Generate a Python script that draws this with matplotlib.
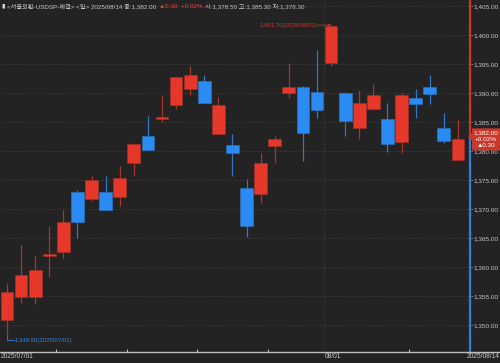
import matplotlib
matplotlib.use("Agg")
import matplotlib.pyplot as plt
import numpy as np
import pandas as pd
from matplotlib.lines import Line2D
from matplotlib.patches import Polygon

# USD/KRW daily candles, 2025/07/01 - 2025/08/14
dates = pd.bdate_range("2025-07-01", "2025-08-14")
opens = [1350.8, 1354.8, 1354.8, 1361.9, 1362.5, 1373.0, 1371.8, 1372.9, 1372.1, 1378.0,
         1382.5, 1385.5, 1388.0, 1390.6, 1392.1, 1382.9, 1381.0, 1373.7, 1372.5, 1380.9,
         1390.0, 1391.1, 1390.1, 1395.1, 1390.0, 1384.0, 1387.2, 1385.5, 1381.5, 1389.1,
         1391.1, 1384.0, 1378.5]
highs = [1357.2, 1363.8, 1361.9, 1367.1, 1369.8, 1373.3, 1375.7, 1375.6, 1377.4, 1381.3,
         1386.0, 1389.7, 1392.8, 1394.7, 1393.1, 1389.3, 1382.9, 1375.1, 1379.6, 1382.6,
         1395.1, 1391.2, 1397.4, 1401.7, 1390.1, 1390.5, 1391.5, 1388.2, 1390.0, 1390.6,
         1393.1, 1386.5, 1385.3]
lows = [1348.5, 1353.8, 1353.6, 1358.2, 1361.6, 1365.0, 1371.3, 1369.8, 1370.5, 1375.7,
        1380.1, 1385.0, 1387.2, 1389.7, 1388.2, 1382.9, 1375.7, 1365.1, 1371.0, 1377.9,
        1389.2, 1378.2, 1385.6, 1394.7, 1382.6, 1382.0, 1387.1, 1379.9, 1379.7, 1385.6,
        1388.1, 1381.3, 1378.3]
closes = [1355.7, 1358.6, 1359.4, 1362.1, 1367.8, 1367.8, 1375.0, 1369.8, 1375.3, 1381.2,
          1380.2, 1385.7, 1392.7, 1393.1, 1388.2, 1387.9, 1379.7, 1367.1, 1377.9, 1382.1,
          1391.1, 1383.1, 1387.0, 1401.6, 1385.2, 1388.3, 1389.6, 1381.2, 1389.7, 1388.1,
          1389.9, 1381.7, 1382.0]
price_ticks = list(range(1350, 1406, 5))
week_ticks = ["2025-07-07", "2025-07-14", "2025-07-21", "2025-07-28", "2025-08-11"]
month_label = "2025-08-01"

bg = "#232323"
red = "#e5382a"
blue = "#2a8cf2"
red_wick = "#a83428"
blue_wick = "#2f78c8"
txt = "#c8c8c8"
fonts = ["Liberation Sans", "Noto Sans CJK KR", "DejaVu Sans"]

fig = plt.figure(figsize=(5, 3.63), dpi=100, facecolor=bg)
ax = fig.add_axes([0, 11 / 363, 470 / 500, 352 / 363], facecolor=bg)

x = np.arange(len(dates))
o = np.array(opens)
c = np.array(closes)
up = c >= o
cols = np.where(up, red, blue)
wcols = np.where(up, red_wick, blue_wick)
height = np.maximum(np.abs(c - o), 0.3)
bottom = np.minimum(o, c)

# grid
for p in price_ticks:
    ax.axhline(p, color="#474747", lw=0.6, ls=(0, (1, 2)), zorder=0)
pos_month = dates.get_loc(pd.Timestamp(month_label)) - 0.5
ax.axvline(pos_month, color="#474747", lw=0.6, ls=(0, (1, 2)), zorder=0)

ax.vlines(x, lows, highs, colors=wcols, lw=0.9, zorder=1)
ax.bar(x, height, bottom=bottom, width=0.9, color=cols, edgecolor=wcols, lw=0.4, zorder=2)

ax.set_xlim(-0.497, 32.86)
ax.set_ylim(1345.34, 1406.03)
for s in ax.spines.values():
    s.set_visible(False)

ax.yaxis.tick_right()
ax.set_yticks(price_ticks)
ax.set_yticklabels([f"{p:,.2f}" for p in price_ticks], family=fonts)
ax.set_yticks(np.arange(1346, 1406, 1), minor=True)
ax.tick_params(axis="y", which="major", colors="#888888", labelcolor=txt, labelsize=4.6,
               length=2, width=0.5, pad=0.8)
ax.tick_params(axis="y", which="minor", colors="#666666", length=1, width=0.5)

wk = [dates.get_loc(pd.Timestamp(d)) - 0.5 for d in week_ticks]
ax.set_xticks(wk)
ax.set_xticklabels([])
ax.tick_params(axis="x", direction="in", length=2, width=0.8, colors="#bdbdbd")

# right axis line: red above last close, blue below
last = closes[-1]
yt = ax.get_yaxis_transform()
ax.plot([1, 1], [last, 1406.03], color="#c8382b", lw=1.6, transform=yt, clip_on=False, zorder=5)
ax.plot([1, 1], [1345.34, last], color="#2d7fe0", lw=1.6, transform=yt, clip_on=False, zorder=5)

# bottom axis line
fig.add_artist(Line2D([0, 1], [11 / 363, 11 / 363], color="#bdbdbd", lw=1.0,
                      transform=fig.transFigure))

# high / low annotations
imax = int(np.argmax(highs))
imin = int(np.argmin(lows))
ax.annotate("", xy=(imax, highs[imax]), xytext=(imax - 1.0, highs[imax]),
            arrowprops=dict(arrowstyle="->", color="#c8382b", lw=0.6,
                            shrinkA=0, shrinkB=0, mutation_scale=4))
ax.text(imax - 1.0, highs[imax], f"{highs[imax]:,.2f}({dates[imax]:%Y/%m/%d})",
        color="#c8382b", fontsize=4.3, family=fonts, ha="right", va="center")
ax.plot([imin - 0.02, imin - 0.02, imin + 0.5], [lows[imin] - 0.2, lows[imin] - 1.1, lows[imin] - 1.1],
        color="#3b82d6", lw=0.6, clip_on=False)
ax.text(imin + 0.57, lows[imin] - 1.1, f"{lows[imin]:,.2f}({dates[imin]:%Y/%m/%d})",
        color="#3b82d6", fontsize=4.3, family=fonts, ha="left", va="center")

# date labels
ly = 1 - 357 / 363
fig.text(1 / 500, ly, f"{dates[0]:%Y/%m/%d}", color=txt, fontsize=4.8, family=fonts, va="center")
fig.text((7 + 14.09 * pos_month) / 500 + 0.002, ly, f"{pd.Timestamp(month_label):%m/%d}",
         color=txt, fontsize=4.8, family=fonts, va="center")
fig.text(499.5 / 500, ly, f"{dates[-1]:%Y/%m/%d}", color=txt, fontsize=4.8, family=fonts,
         va="center", ha="right")

# current price box
prev = closes[-2]
chg = last - prev
pct = chg / prev * 100
ybox = ax.transData.transform((0, last))[1] / 363
box = Polygon([(468 / 500, ybox + 3 / 363), (472 / 500, ybox + 7 / 363), (472 / 500, ybox + 11 / 363),
               (500 / 500, ybox + 11 / 363), (500 / 500, ybox - 11 / 363), (472 / 500, ybox - 11 / 363),
               (472 / 500, ybox - 1 / 363)],
              closed=True, facecolor="#c8382b", edgecolor="none", transform=fig.transFigure, zorder=10)
fig.add_artist(box)
for k, s in enumerate([f"{last:,.2f}", f"+{pct:.2f}%", f"▲{chg:.2f}"]):
    fig.text(486 / 500, ybox + (6.5 - 6.5 * k) / 363, s, color="white", fontsize=4.6,
             family=fonts, ha="center", va="center", zorder=11)

# header
r = fig.canvas.get_renderer()
parts = [("▮", "#e0e0e0"),
         (f"<서울외환-USDSP-체결> <일> {dates[-1]:%Y/%m/%d} 종:{last:,.2f}", txt),
         (f"▲{chg:.2f}  +{pct:.2f}%", "#e0483a"),
         (f"시:{opens[-1]:,.2f} 고:{highs[-1]:,.2f} 저:{lows[-1]:,.2f}", txt)]
hx = 1
for s, col in parts:
    t = fig.text(hx / 500, 1 - 6 / 363, s, color=col, fontsize=4.5, family=fonts, va="center")
    hx = t.get_window_extent(r).x1 + 2.5

fig.savefig("out.png", dpi=100, facecolor=bg)
